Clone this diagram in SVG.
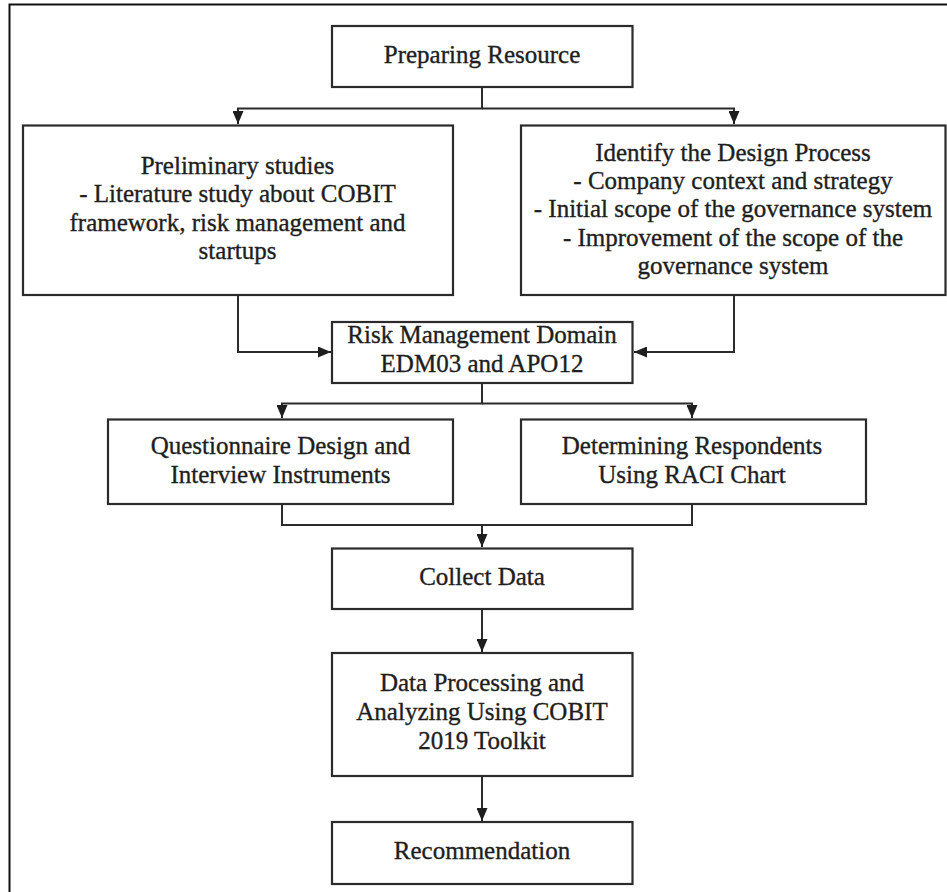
<svg xmlns="http://www.w3.org/2000/svg" width="947" height="892" viewBox="0 0 947 892">
<style>
  .box { fill: #ffffff; stroke: #2b2b2b; stroke-width: 2.2; }
  .lbl { font-family: "Liberation Serif", "Times New Roman", serif; font-size: 25px; fill: #1e1e1e; stroke: #1e1e1e; stroke-width: 0.35; text-anchor: middle; }
  .conn { fill: none; stroke: #2b2b2b; stroke-width: 2; }
  .frame { fill: none; stroke: #111111; stroke-width: 2; }
</style>
<defs>
  <marker id="arrow" markerUnits="userSpaceOnUse" markerWidth="13" markerHeight="11" refX="13" refY="5.5" orient="auto">
    <path d="M0,0 L13,5.5 L0,11 z" fill="#1e1e1e"/>
  </marker>
</defs>
<rect width="947" height="892" fill="#ffffff"/>
<rect class="frame" x="9.5" y="4.5" width="960" height="920"/>

<g id="connectors">
  <path class="conn" d="M482,87 V108.5 H238 V124" marker-end="url(#arrow)"/>
  <path class="conn" d="M482,108.5 H734 V124" marker-end="url(#arrow)"/>
  <path class="conn" d="M238,295 V352 H331" marker-end="url(#arrow)"/>
  <path class="conn" d="M734,295 V352 H634" marker-end="url(#arrow)"/>
  <path class="conn" d="M482,383 V403.5 H282 V418" marker-end="url(#arrow)"/>
  <path class="conn" d="M482,403.5 H692 V418" marker-end="url(#arrow)"/>
  <path class="conn" d="M282,504 V525 H692 V504"/>
  <path class="conn" d="M482,525 V547" marker-end="url(#arrow)"/>
  <path class="conn" d="M482,609 V652" marker-end="url(#arrow)"/>
  <path class="conn" d="M482,776 V821" marker-end="url(#arrow)"/>
</g>

<g id="preparing-resource">
  <rect class="box" x="332" y="26" width="300.5" height="61"/>
  <text class="lbl" x="482" y="63">Preparing Resource</text>
</g>

<g id="preliminary-studies">
  <rect class="box" x="23" y="125.5" width="430" height="169.5"/>
  <text class="lbl" x="237.5" y="173.5">Preliminary studies</text>
  <text class="lbl" x="237.5" y="202">- Literature study about COBIT</text>
  <text class="lbl" x="237.5" y="230.5">framework, risk management and</text>
  <text class="lbl" x="237.5" y="259">startups</text>
</g>

<g id="identify-design-process">
  <rect class="box" x="521" y="125.5" width="424.5" height="169.5"/>
  <text class="lbl" x="733" y="161">Identify the Design Process</text>
  <text class="lbl" x="733" y="189">- Company context and strategy</text>
  <text class="lbl" x="733" y="217">- Initial scope of the governance system</text>
  <text class="lbl" x="733" y="245.5">- Improvement of the scope of the</text>
  <text class="lbl" x="733" y="273.5">governance system</text>
</g>

<g id="risk-management-domain">
  <rect class="box" x="332" y="322" width="300.5" height="61"/>
  <text class="lbl" x="482" y="342.5">Risk Management Domain</text>
  <text class="lbl" x="482" y="371.5">EDM03 and APO12</text>
</g>

<g id="questionnaire-design">
  <rect class="box" x="108" y="419.5" width="345" height="84.5"/>
  <text class="lbl" x="280.5" y="453.5">Questionnaire Design and</text>
  <text class="lbl" x="280.5" y="482.5">Interview Instruments</text>
</g>

<g id="determining-respondents">
  <rect class="box" x="521" y="419.5" width="345" height="84.5"/>
  <text class="lbl" x="692" y="453.5">Determining Respondents</text>
  <text class="lbl" x="692" y="482.5">Using RACI Chart</text>
</g>

<g id="collect-data">
  <rect class="box" x="332" y="548.5" width="300.5" height="60.5"/>
  <text class="lbl" x="482" y="584.5">Collect Data</text>
</g>

<g id="data-processing">
  <rect class="box" x="332" y="653" width="300.5" height="123"/>
  <text class="lbl" x="482" y="690.5">Data Processing and</text>
  <text class="lbl" x="482" y="719.5">Analyzing Using COBIT</text>
  <text class="lbl" x="482" y="749">2019 Toolkit</text>
</g>

<g id="recommendation">
  <rect class="box" x="332" y="822" width="300.5" height="62"/>
  <text class="lbl" x="482" y="859">Recommendation</text>
</g>
</svg>
